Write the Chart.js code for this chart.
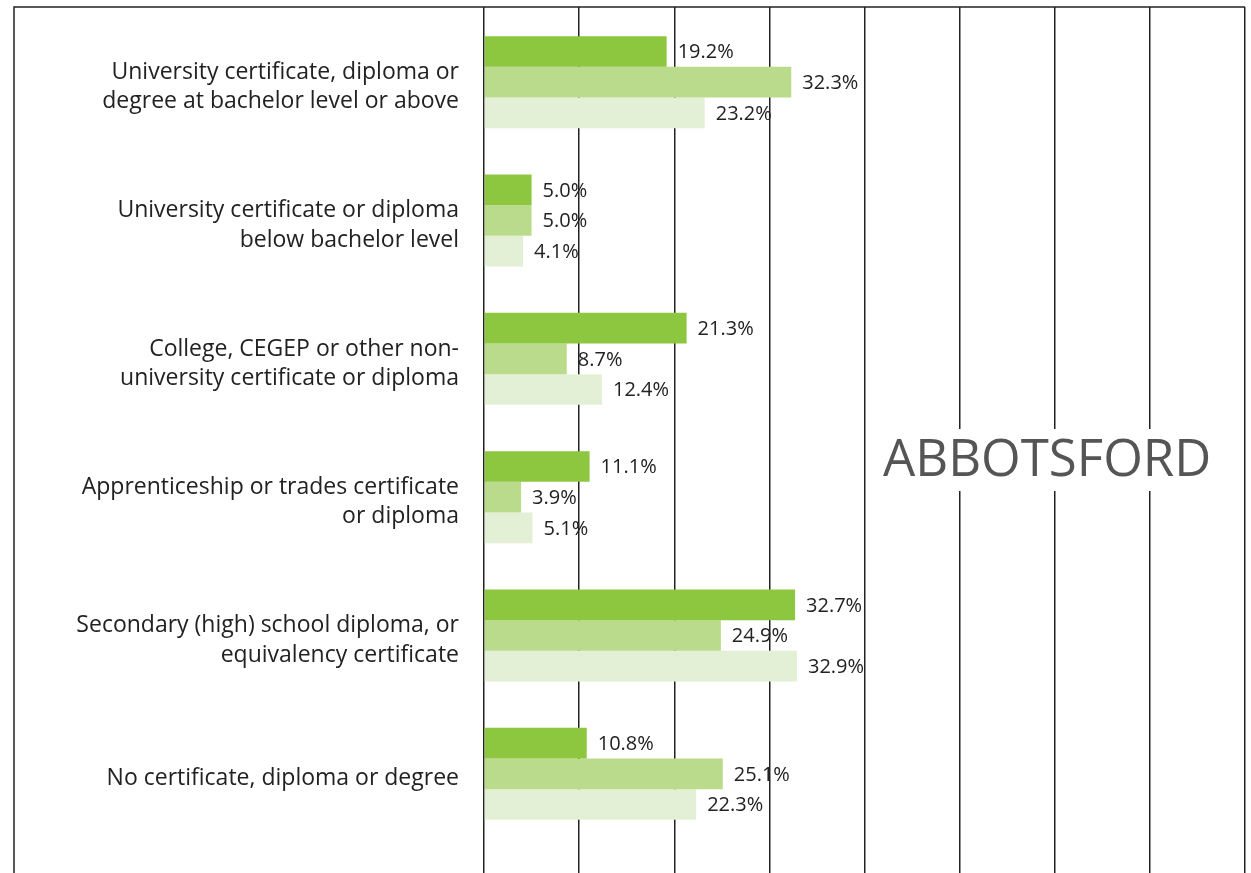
<!DOCTYPE html>
<html>
<head>
<meta charset="utf-8">
<script src="https://cdn.jsdelivr.net/npm/chart.js@4.4.1/dist/chart.umd.min.js"></script>
<style>
  html, body { margin: 0; padding: 0; background: #fff; }
  #wrap { width: 1251px; height: 873px; }
</style>
</head>
<body>
<div id="wrap"><canvas id="chart"></canvas></div>
<script>
// categories (multi-line labels, as in the picture)
const categories = [
  ["University certificate, diploma or", "degree at bachelor level or above"],
  ["University certificate or diploma", "below bachelor level"],
  ["College, CEGEP or other non-", "university certificate or diploma"],
  ["Apprenticeship or trades certificate", "or diploma"],
  ["Secondary (high) school diploma, or", "equivalency certificate"],
  ["No certificate, diploma or degree"]
];

// three series
const series1 = [19.2, 5.0, 21.3, 11.1, 32.7, 10.8];
const series2 = [32.3, 5.0, 8.7, 3.9, 24.9, 25.1];
const series3 = [23.2, 4.1, 12.4, 5.1, 32.9, 22.3];

const chartTitle = "ABBOTSFORD";
const fontFamily = "'Open Sans', Lato, sans-serif";

// value labels drawn to the right of each bar
const valueLabels = {
  id: "valueLabels",
  afterDatasetsDraw(chart) {
    const ctx = chart.ctx;
    ctx.save();
    ctx.font = "20px " + fontFamily;
    ctx.fillStyle = "#222";
    ctx.textAlign = "left";
    ctx.textBaseline = "middle";
    chart.data.datasets.forEach((ds, i) => {
      chart.getDatasetMeta(i).data.forEach((bar, j) => {
        ctx.fillText(ds.data[j].toFixed(1) + "%", bar.x + 11, bar.y + 1);
      });
    });
    ctx.restore();
  }
};

// frame lines and the place name over the grid
const frameAndTitle = {
  id: "frameAndTitle",
  afterDraw(chart) {
    const ctx = chart.ctx;
    const x = chart.scales.x;
    ctx.save();
    ctx.strokeStyle = "#222";
    ctx.lineWidth = 1.5;
    ctx.beginPath();
    ctx.moveTo(14, 873);
    ctx.lineTo(14, 7);
    ctx.lineTo(x.right, 7);
    ctx.stroke();

    // title box
    const cx = x.getPixelForValue(59.2);
    const cy = 460;
    ctx.font = "51px " + fontFamily;
    const w = ctx.measureText(chartTitle).width;
    ctx.fillStyle = "#fff";
    ctx.fillRect(cx - w / 2 - 12, cy - 31, w + 24, 62);
    ctx.fillStyle = "#555";
    ctx.textAlign = "center";
    ctx.textBaseline = "middle";
    ctx.fillText(chartTitle, cx, cy + 1);
    ctx.restore();
  }
};

new Chart(document.getElementById("chart"), {
  type: "bar",
  data: {
    labels: categories,
    datasets: [
      { data: series1, backgroundColor: "#8dc63f" },
      { data: series2, backgroundColor: "#badb8b" },
      { data: series3, backgroundColor: "#e3f0d6" }
    ]
  },
  options: {
    indexAxis: "y",
    responsive: true,
    maintainAspectRatio: false,
    animation: false,
    layout: { padding: { top: 7, left: 14, right: 6, bottom: 0 } },
    datasets: {
      bar: { barPercentage: 1.0, categoryPercentage: 0.665, borderWidth: 0 }
    },
    plugins: {
      legend: { display: false },
      tooltip: { enabled: false }
    },
    scales: {
      x: {
        position: "top",
        min: 0,
        max: 80,
        ticks: { stepSize: 10, display: false },
        grid: { color: "#222", lineWidth: 1.5, tickLength: 6, drawTicks: true },
        border: { display: false }
      },
      x2: {
        position: "bottom",
        axis: "x",
        min: 0,
        max: 80,
        ticks: { stepSize: 10, display: false },
        grid: { color: "#222", lineWidth: 1.5, tickLength: 30, drawOnChartArea: false },
        border: { display: false }
      },
      y: {
        grid: { display: false, drawTicks: false },
        border: { display: false },
        ticks: {
          color: "#222",
          font: { family: fontFamily, size: 23, lineHeight: 1.27 },
          padding: 25,
          labelOffset: 5
        },
        afterFit(scale) {
          scale.width = 470;
          scale.paddingTop = 0;
          scale.paddingBottom = 0;
        }
      }
    }
  },
  plugins: [valueLabels, frameAndTitle]
});
</script>
</body>
</html>
